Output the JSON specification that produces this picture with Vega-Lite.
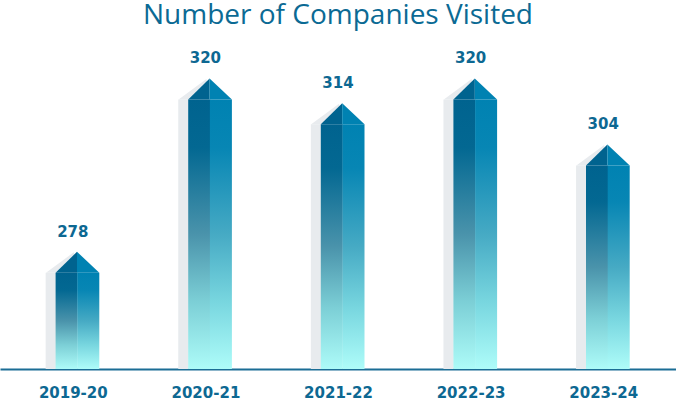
{
  "$schema": "https://vega.github.io/schema/vega-lite/v6.json",
  "autosize": {"type": "none"},
  "width": 676,
  "height": 329,
  "padding": {"top": 40, "left": 0, "right": 0, "bottom": 35},
  "background": "white",
  "title": {
    "text": "Number of Companies Visited",
    "font": "Open Sans",
    "fontSize": 28,
    "fontWeight": "normal",
    "color": "#0b6a94",
    "anchor": "middle",
    "baseline": "alphabetic",
    "offset": -12
  },
  "data": {
    "values": [
      {"year": "2019-20", "value": 278},
      {"year": "2020-21", "value": 320},
      {"year": "2021-22", "value": 314},
      {"year": "2022-23", "value": 320},
      {"year": "2023-24", "value": 304}
    ]
  },
  "encoding": {
    "x": {
      "field": "year",
      "type": "nominal",
      "sort": null,
      "scale": {"type": "point", "padding": 0.549},
      "axis": {
        "title": null,
        "labelAngle": 0,
        "ticks": false,
        "grid": false,
        "domainWidth": 2,
        "domainColor": "#1b6d95",
        "labelFont": "DejaVu Sans",
        "labelFontWeight": "bold",
        "labelFontSize": 15,
        "labelColor": "#0d6892",
        "labelPadding": 16
      }
    },
    "y": {
      "field": "value",
      "type": "quantitative",
      "scale": {"domain": [249.6, 329.3], "zero": false, "nice": false},
      "axis": null
    }
  },
  "layer": [
    {
      "mark": {"type": "bar", "width": 10.3, "xOffset": -22, "yOffset": 21, "color": "#e8ebee"},
      "encoding": {"y2": {"datum": 249.6}}
    },
    {
      "mark": {"type": "point", "filled": true, "opacity": 1, "size": 400, "strokeWidth": 0, "color": "#e8ebee",
        "shape": "M-2.68,2.1L0.1,0.05L0.42,2.1Z"}
    },
    {
      "mark": {"type": "bar", "width": 22, "xOffset": -6.2, "yOffset": 21,
        "color": {"gradient": "linear", "x1": 0, "y1": 0, "x2": 0, "y2": 1,
          "stops": [
            {"offset": 0, "color": "#00638f"},
            {"offset": 0.18, "color": "#036892"},
            {"offset": 0.5, "color": "#4a93ab"},
            {"offset": 0.75, "color": "#7ccfd6"},
            {"offset": 1, "color": "#adfbf8"}
          ]}},
      "encoding": {"y2": {"datum": 249.6}}
    },
    {
      "mark": {"type": "bar", "width": 22, "xOffset": 15.5, "yOffset": 21,
        "color": {"gradient": "linear", "x1": 0, "y1": 0, "x2": 0, "y2": 1,
          "stops": [
            {"offset": 0, "color": "#0082b2"},
            {"offset": 0.18, "color": "#0786b4"},
            {"offset": 0.5, "color": "#46aac4"},
            {"offset": 0.75, "color": "#78d6df"},
            {"offset": 1, "color": "#aefcf9"}
          ]}},
      "encoding": {"y2": {"datum": 249.6}}
    },
    {
      "mark": {"type": "point", "filled": true, "opacity": 1, "size": 400, "strokeWidth": 0, "color": "#00638f",
        "shape": "M-1.72,2.1L0.42,0L0.42,2.1Z"}
    },
    {
      "mark": {"type": "point", "filled": true, "opacity": 1, "size": 400, "strokeWidth": 0, "color": "#0082b2",
        "shape": "M0.42,0L2.65,2.1L0.42,2.1Z"}
    },
    {
      "mark": {"type": "text", "dy": -15, "baseline": "alphabetic", "align": "center",
        "font": "DejaVu Sans", "fontWeight": "bold", "fontSize": 15, "color": "#0d6892"},
      "encoding": {"text": {"field": "value", "type": "quantitative"}}
    }
  ],
  "config": {"view": {"stroke": null}}
}
